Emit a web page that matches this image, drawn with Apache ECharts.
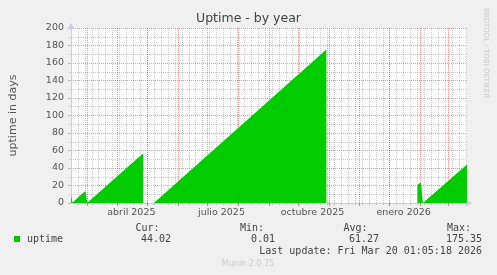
<!DOCTYPE html>
<html><head><meta charset="utf-8">
<script src="https://cdn.jsdelivr.net/npm/echarts@6/dist/echarts.min.js"></script>
<style>html,body{margin:0;padding:0;background:#f0f0f0}#c{width:497px;height:275px}</style>
</head><body><div id="c"></div>
<script>
// ---- data ----
const xStart = '2025-02-13 00:00';
const xEnd = '2026-03-20 01:05';
const uptimeTimes = [
  '2025-02-13 00:30','2025-02-14 12:00','2025-02-27 12:00','2025-03-01 12:00','2025-04-27 00:00','2025-04-28 00:00',
  '2025-05-07 12:00','2025-05-08 00:00','2025-10-29 00:00','2025-10-30 00:00',
  '2026-01-28 12:00','2026-01-29 00:00','2026-02-01 12:00','2026-02-03 12:00','2026-03-20 01:05'
];
const uptimeValues = [
  9, 0.6, 13.7, 0.2, 57.0, null,
  null, 0.3, 175.35, null,
  null, 20.6, 23.6, 0.01, 44.02
];
const monthStarts = ['2025-03-01 00:00','2025-04-01 00:00','2025-05-01 00:00','2025-06-01 00:00','2025-07-01 00:00',
  '2025-08-01 00:00','2025-09-01 00:00','2025-10-01 00:00','2025-11-01 00:00','2025-12-01 00:00',
  '2026-01-01 00:00','2026-02-01 00:00','2026-03-01 00:00'];
const labelDates = ['2025-04-15 00:00','2025-07-15 00:00','2025-10-15 00:00','2026-01-15 00:00'];
const labelTexts = ['abril 2025','julio 2025','octubre 2025','enero 2026'];
const yMin = 0, yMax = 200, yStep = 20;
const seriesName = 'uptime';
const statNames = ['Cur:','Min:','Avg:','Max:'];
const statValues = ['44.02','0.01','61.27','175.35'];
const lastUpdate = 'Last update: Fri Mar 20 01:05:18 2026';
const titleText = 'Uptime - by year';
const yName = 'uptime in days';

// ---- build ----
const ts = s => Date.parse(s.replace(' ', 'T') + ':00Z');
const tMin = ts(xStart), tMax = ts(xEnd);
const WEEK = 7 * 86400000;
const weekTicks = [];
for (let t = tMin + WEEK; t < tMax; t += WEEK) weekTicks.push(t);
const data = uptimeTimes.map((t, i) => [ts(t), uptimeValues[i]]);
const labelTs = labelDates.map(ts);

const FONT = 'DejaVu Sans', MONO = 'DejaVu Sans Mono';
const axisBlue = '#c5ccf6';
const majorGrid = 'rgba(230,0,0,0.42)';
const minorGrid = 'rgba(0,0,0,0.2)';

const chart = echarts.init(document.getElementById('c'), null, {renderer: 'canvas'});
const statX = [159.5, 264, 367.5, 471];
const valX = [171, 275, 379, 482];
const graphics = [];
statNames.forEach((n, i) => {
  graphics.push({type: 'text', x: statX[i], y: 228, style: {text: n, align: 'right', verticalAlign: 'middle', font: '10px ' + MONO, fill: '#444'}});
  graphics.push({type: 'text', x: valX[i], y: 239.5, style: {text: statValues[i], align: 'right', verticalAlign: 'middle', font: '10px ' + MONO, fill: '#444'}});
});
graphics.push({type: 'text', x: 482, y: 251.5, style: {text: lastUpdate, align: 'right', verticalAlign: 'middle', font: '10px ' + MONO, fill: '#444'}});
graphics.push({type: 'text', x: 248, y: 264, style: {text: 'Munin 2.0.75', align: 'center', verticalAlign: 'middle', font: '8px ' + FONT, fill: '#cccccc'}});
graphics.push({type: 'text', x: 485.5, y: 53, rotation: -Math.PI / 2, style: {text: 'RRDTOOL / TOBI OETIKER', align: 'center', verticalAlign: 'middle', font: '7px ' + FONT, fill: '#c8c8c8'}});

chart.setOption({
  animation: false,
  backgroundColor: '#f0f0f0',
  title: {text: titleText, left: 'center', top: 12.5, padding: 0,
    textStyle: {fontFamily: FONT, fontSize: 12.5, fontWeight: 'normal', color: '#444'}},
  legend: {data: [seriesName], left: 14, top: 234, padding: 0, icon: 'rect', itemWidth: 6, itemHeight: 6, itemGap: 5,
    textStyle: {fontFamily: MONO, fontSize: 10, color: '#444', padding: [0, 0, 0, 2]}},
  grid: {left: 67, right: 30, top: 28, bottom: 72, backgroundColor: '#ffffff', show: true, borderWidth: 0},
  xAxis: [
    {type: 'value', min: tMin, max: tMax, z: 0, position: 'bottom', show: true,
      axisLine: {show: false}, axisLabel: {show: false},
      axisTick: {show: true, length: 2, lineStyle: {color: '#bbb'}, customValues: weekTicks},
      splitLine: {show: true, lineStyle: {color: minorGrid, type: [1, 1], width: 1}}},
    {type: 'value', min: tMin, max: tMax, z: 1, position: 'bottom', show: true,
      axisLine: {show: true, lineStyle: {color: axisBlue, width: 1}, symbol: ['none', 'arrow'], symbolSize: [6, 7], symbolOffset: [0, 5]},
      axisTick: {show: true, length: 3, lineStyle: {color: 'rgba(225,40,40,0.55)'}, customValues: monthStarts.map(ts)},
      axisLabel: {show: true, customValues: labelTs, margin: 5, fontFamily: FONT, fontSize: 9.5, color: '#555',
        formatter: v => { const i = labelTs.indexOf(v); return i >= 0 ? labelTexts[i] : ''; }},
      splitLine: {show: true, lineStyle: {color: majorGrid, type: [1, 1], width: 1}}}
  ],
  yAxis: {type: 'value', min: yMin, max: yMax, interval: yStep, z: 1,
    name: yName, nameLocation: 'middle', nameGap: 52, nameTextStyle: {fontFamily: FONT, fontSize: 11, color: '#555'},
    axisLine: {show: true, lineStyle: {color: axisBlue, width: 1}, symbol: ['none', 'arrow'], symbolSize: [6, 7], symbolOffset: [0, 5]},
    axisTick: {show: true, length: 3, lineStyle: {color: '#bbb'}},
    minorTick: {show: true, splitNumber: 2, length: 2, lineStyle: {color: '#ccc'}},
    axisLabel: {fontFamily: FONT, fontSize: 9.5, color: '#555', margin: 7},
    splitLine: {show: true, lineStyle: {color: majorGrid, type: [1, 1], width: 1}},
    minorSplitLine: {show: true, lineStyle: {color: minorGrid, type: [1, 1], width: 1}}},
  series: [{
    name: seriesName, type: 'line', xAxisIndex: 1, data: data, showSymbol: false, connectNulls: false,
    itemStyle: {color: '#00cc00'}, lineStyle: {width: 0, opacity: 0},
    areaStyle: {color: '#00cc00', opacity: 1, origin: 'start'}, z: 5
  }],
  graphic: graphics
});
</script></body></html>
